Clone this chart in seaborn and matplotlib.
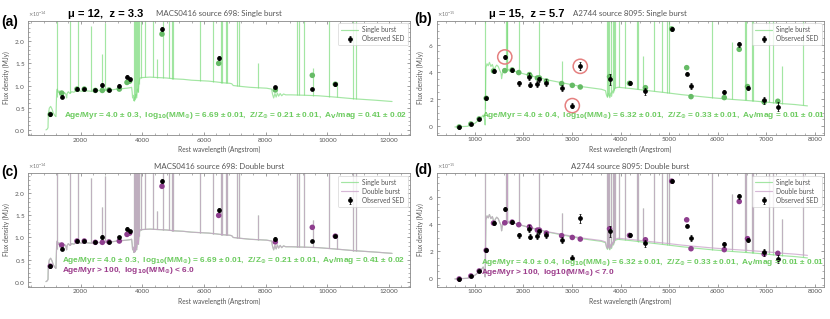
import numpy as np
import matplotlib
matplotlib.use("Agg")
import matplotlib.pyplot as plt
import seaborn as sns
from matplotlib.ticker import MultipleLocator, AutoMinorLocator, ScalarFormatter

# ---------------- data : MACS0416 source 698 (flux in 1e-14 MJy) ----------------
spec_a_wave = [874, 917, 940, 949, 982, 1025, 1069, 1112, 1166, 1198,
               1222, 1240, 1274, 1300, 1328, 1355, 1382, 1400, 1436, 1480,
               1520, 1544, 1560, 1598, 1650, 1706, 1780, 1868, 1950, 2050,
               2193, 2350, 2517, 2700, 2841, 3000, 3166, 3350, 3490, 3600,
               3652, 3670, 3684, 3705, 3727, 3750, 3771, 3790, 3814, 3840,
               3868, 3895, 3922, 4000, 4246, 4500, 4787, 5050, 5328, 5600,
               5869, 6150, 6409, 6650, 6841, 6900, 6949, 7200, 7490, 7750,
               8030, 8192, 8224, 8260, 8300, 8340, 8380, 8420, 8470, 8520,
               8580, 8650, 8835, 9300, 9700, 10241, 10890, 11540, 12100]
spec_a_flux = [0.00, 0.02, 0.05, 0.34, 0.49, 0.53, 0.47, 0.38, 0.32, 0.30,
               0.88, 0.92, 0.84, 0.88, 0.78, 0.85, 0.82, 0.74, 0.80, 0.84,
               0.80, 0.72, 0.82, 0.86, 0.82, 0.86, 0.85, 0.89, 0.88, 0.87,
               0.88, 0.87, 0.89, 0.88, 0.90, 0.90, 0.92, 0.93, 0.94, 0.95,
               0.96, 0.85, 0.72, 0.78, 0.66, 0.74, 0.68, 0.80, 0.72, 0.92,
               0.85, 1.08, 1.17, 1.18, 1.19, 1.18, 1.17, 1.15, 1.14, 1.12,
               1.11, 1.10, 1.08, 1.06, 1.05, 1.04, 1.00, 0.98, 0.96, 0.95,
               0.94, 0.92, 0.80, 0.72, 0.82, 0.74, 0.83, 0.76, 0.82, 0.77,
               0.81, 0.79, 0.79, 0.78, 0.77, 0.74, 0.70, 0.67, 0.64]
lines_a_wave = [1216, 1640, 1909, 2326, 2680, 2800, 3727, 3760, 3798, 3835,
                3869, 3889, 3970, 4102, 4340, 4471, 4686, 4861, 4959, 5007,
                5876, 6300, 6563, 6583, 6717, 6731, 7065, 7136, 7751, 9015,
                9069, 9229, 9532, 10049, 10320, 10830, 10938]
lines_a_peak = [3.0, 3.0, 3.0, 2.35, 1.7, 2.4, 3.0, 3.0, 3.0, 3.0,
                3.0, 3.0, 3.0, 3.0, 3.0, 1.6, 3.0, 3.0, 3.0, 3.0,
                3.0, 3.0, 3.0, 3.0, 3.0, 3.0, 3.0, 3.0, 1.5, 3.0,
                3.0, 3.0, 1.4, 3.0, 1.08, 3.0, 3.0]
obs_a_wave = [1014, 1384, 1880, 2117, 2475, 2702, 2918, 3253, 3502, 3589,
              4637, 6476, 8313, 9513, 10259]
obs_a_flux = [0.35, 0.75, 0.93, 0.92, 0.90, 1.01, 0.90, 1.00, 1.20, 1.14,
              2.28, 1.62, 0.96, 0.92, 1.03]
obs_a_err = [0.04, 0.04, 0.03, 0.03, 0.03, 0.04, 0.03, 0.04, 0.04, 0.04,
             0.04, 0.04, 0.04, 0.03, 0.03]
mod_a_flux = [0.35, 0.83, 0.92, 0.92, 0.89, 0.89, 0.90, 0.92, 1.07, 1.10,
              2.16, 1.50, 0.90, 1.23, 1.03]

# ---------------- data : A2744 source 8095 (flux in 1e-15 MJy) ----------------
spec_b_wave = [589, 700, 850, 897, 950, 1000, 1068, 1137, 1171, 1200,
               1212, 1226, 1250, 1274, 1300, 1330, 1360, 1385, 1400, 1420,
               1450, 1480, 1514, 1540, 1550, 1562, 1590, 1617, 1650, 1680,
               1720, 1754, 1823, 1960, 2165, 2510, 2853, 3196, 3608, 3690,
               3710, 3730, 3750, 3780, 3800, 3815, 3835, 3855, 3880, 3950,
               4225, 4570, 4910, 5250, 5600, 5940, 6285, 6630, 6970, 7315,
               7590, 7850]
spec_b_flux = [-0.05, -0.03, 0.00, 0.08, 0.12, 0.22, 0.42, 0.66, 0.83, 0.50,
               0.10, 4.30, 4.60, 4.45, 4.70, 4.40, 4.55, 4.25, 3.95, 4.35,
               4.50, 4.40, 4.10, 3.90, 3.50, 3.75, 4.20, 4.25, 4.00, 4.20,
               4.05, 4.14, 4.05, 3.90, 3.70, 3.40, 3.16, 2.92, 2.72, 2.62,
               2.30, 2.15, 2.40, 2.10, 2.45, 2.20, 2.60, 2.45, 2.80, 2.87,
               2.77, 2.62, 2.48, 2.33, 2.20, 2.08, 1.98, 1.89, 1.79, 1.67,
               1.60, 1.50]
spec_b_double_flux = [-0.05, -0.03, 0.00, 0.08, 0.12, 0.22, 0.42, 0.66, 0.83, 0.50,
                      0.10, 4.30, 4.60, 4.45, 4.70, 4.40, 4.55, 4.25, 3.95, 4.35,
                      4.50, 4.40, 4.10, 3.90, 3.50, 3.75, 4.20, 4.25, 4.00, 4.20,
                      4.05, 4.14, 4.06, 3.91, 3.72, 3.42, 3.20, 2.97, 2.78, 2.68,
                      2.36, 2.21, 2.46, 2.17, 2.52, 2.27, 2.67, 2.52, 2.87, 2.95,
                      2.86, 2.72, 2.59, 2.45, 2.33, 2.22, 2.13, 2.05, 1.96, 1.85,
                      1.78, 1.69]
lines_b_wave = [1216, 1640, 1661, 1666, 1909, 2326, 2800, 3727, 3750, 3771,
                3798, 3835, 3869, 3889, 3970, 4102, 4340, 4363, 4471, 4686,
                4861, 4959, 5007, 5876, 6300, 6563, 6583, 6717, 6731, 7065,
                7136, 7325, 7751]
lines_b_peak = [9, 9, 9, 9, 9, 9, 4.8, 9, 9, 9,
                9, 9, 9, 9, 9, 9, 9, 9, 5.2, 9,
                9, 9, 9, 9, 6.2, 9, 9, 9, 9, 9,
                9, 4.4, 9]
obs_b_wave = [677, 918, 1089, 1233, 1384, 1616, 1767, 1904, 2124, 2136,
              2288, 2329, 2473, 2787, 3007, 3171, 3774, 4185, 4513, 5054,
              5363, 5452, 6137, 6445, 6616, 6958, 7240]
obs_b_flux = [-0.07, 0.17, 0.54, 2.06, 4.07, 5.10, 4.12, 3.16, 3.65, 3.06,
              3.11, 3.46, 3.19, 2.82, 1.52, 4.41, 3.46, 3.19, 2.57, 7.16,
              3.87, 2.97, 2.52, 6.03, 2.84, 1.91, 1.45]
obs_b_err = [0.12, 0.10, 0.10, 0.10, 0.12, 0.15, 0.15, 0.20, 0.25, 0.20,
             0.20, 0.20, 0.25, 0.25, 0.20, 0.30, 0.40, 0.15, 0.25, 0.15,
             0.12, 0.20, 0.18, 0.20, 0.15, 0.25, 0.30]
mod_b_flux = [-0.05, 0.17, 0.54, 2.06, 4.07, 4.09, 4.14, 3.95, 3.80, 3.70,
              3.55, 3.55, 3.33, 3.14, 3.01, 2.89, 3.65, 3.16, 2.84, 7.16,
              4.31, 2.18, 2.11, 5.66, 2.92, 1.79, 1.84]
outlier_b_idx = [5, 14, 15]

# ---------------- text ----------------
titles = ["MACS0416 source 698: Single burst", "A2744 source 8095: Single burst",
          "MACS0416 source 698: Double burst", "A2744 source 8095: Double burst"]
lens_labels = ["μ = 12,  z = 3.3", "μ = 15,  z = 5.7"]
single_fit_a = (r"Age/Myr = 4.0 ± 0.3,  log$_\mathbf{10}$(M/M$_\mathbf{\odot}$) = 6.69 ± 0.01,  "
                r"Z/Z$_\mathbf{\odot}$ = 0.21 ± 0.01,  A$_\mathbf{V}$/mag = 0.41 ± 0.02")
single_fit_b = (r"Age/Myr = 4.0 ± 0.4,  log$_\mathbf{10}$(M/M$_\mathbf{\odot}$) = 6.32 ± 0.01,  "
                r"Z/Z$_\mathbf{\odot}$ = 0.33 ± 0.01,  A$_\mathbf{V}$/mag = 0.01 ± 0.01")
double_fit_c = r"Age/Myr > 100,  log$_\mathbf{10}$(M/M$_\mathbf{\odot}$) < 6.0"
double_fit_d = r"Age/Myr > 100,  log10(M/M$_\mathbf{\odot}$) < 7.0"

# ---------------- style ----------------
sns.set_theme(style="ticks")
plt.rcParams.update({
    "font.family": ["Lato", "DejaVu Sans"],
    "mathtext.fontset": "dejavusans",
    "xtick.direction": "in", "ytick.direction": "in",
    "xtick.top": True, "ytick.right": True,
    "xtick.minor.visible": True, "ytick.minor.visible": True,
    "axes.edgecolor": "#888888", "axes.linewidth": 0.6,
    "xtick.color": "#777777", "ytick.color": "#777777",
    "xtick.labelcolor": "#555555", "ytick.labelcolor": "#555555",
    "xtick.major.size": 2.4, "ytick.major.size": 2.4,
    "xtick.minor.size": 1.2, "ytick.minor.size": 1.2,
    "xtick.major.width": 0.5, "ytick.major.width": 0.5,
    "xtick.minor.width": 0.4, "ytick.minor.width": 0.4,
    "xtick.labelsize": 4.6, "ytick.labelsize": 4.6,
    "xtick.major.pad": 2, "ytick.major.pad": 2,
})

C_SINGLE = "#7ddc7d"
C_DOUBLE = "#c9a0c9"
C_MOD_S = "#66bb66"
C_MOD_D = "#8e3e8e"
C_TXT_S = "#6ccb5f"
C_TXT_D = "#9b3a8a"
BOLD = ["Liberation Sans", "DejaVu Sans"]

fig = plt.figure(figsize=(8.3, 3.19), dpi=100)
ax_a = fig.add_axes([0.0337, 0.5768, 0.4602, 0.3574])
ax_b = fig.add_axes([0.5261, 0.5777, 0.4666, 0.3564])
ax_c = fig.add_axes([0.0337, 0.1013, 0.4602, 0.3555])
ax_d = fig.add_axes([0.5261, 0.1013, 0.4666, 0.3555])


def spectrum(ax, wave, flux, lw_, lp_, scale, color, alpha, label):
    w = np.asarray(wave, float)
    f = np.asarray(flux, float)
    sns.lineplot(x=w, y=f * scale, ax=ax, color=color, alpha=alpha, lw=0.85,
                 estimator=None, sort=False, label=label, legend=False)
    base = np.interp(lw_, w, f)
    ax.vlines(lw_, base * scale, np.asarray(lp_) * scale, color=color,
              alpha=alpha, lw=0.85)


def panel(ax, scale, spec_w, spec_f, spec_fd, lw_, lp_, ow, of, oe, mf,
          double, xlim, ylim, ymaj, yminor, xmaj, title):
    spectrum(ax, spec_w, spec_f, lw_, lp_, scale, C_SINGLE, 0.7, "Single burst")
    if double:
        spectrum(ax, spec_w, spec_fd, lw_, lp_, scale, C_DOUBLE, 0.75, "Double burst")
    sns.scatterplot(x=ow, y=np.asarray(mf) * scale, ax=ax,
                    color=(C_MOD_D if double else C_MOD_S), s=16,
                    edgecolor="none", zorder=4, legend=False)
    ax.errorbar(ow, np.asarray(of) * scale, yerr=np.asarray(oe) * scale,
                fmt="o", color="black", ms=2.4, elinewidth=0.6, capsize=0.9,
                capthick=0.5, zorder=5, label="Observed SED")
    ax.set_xlim(*xlim)
    ax.set_ylim(ylim[0] * scale, ylim[1] * scale)
    ax.xaxis.set_major_locator(MultipleLocator(xmaj))
    ax.xaxis.set_minor_locator(AutoMinorLocator(5))
    ax.yaxis.set_major_locator(MultipleLocator(ymaj * scale))
    ax.yaxis.set_minor_locator(AutoMinorLocator(yminor))
    fmt = ScalarFormatter(useMathText=True)
    ax.yaxis.set_major_formatter(fmt)
    ax.yaxis.get_offset_text().set_fontsize(3.8)
    ax.yaxis.get_offset_text().set_color("#777777")
    ax.set_xlabel("Rest wavelength (Angstrom)", fontsize=4.8, color="#555555", labelpad=2.5)
    ax.set_ylabel("Flux density (MJy)", fontsize=4.8, color="#555555", labelpad=3)
    ax.text(0.5, 1.062, title, transform=ax.transAxes, ha="center", va="center",
            fontsize=5.7, color="#555555")
    h, l = ax.get_legend_handles_labels()
    order = ["Single burst", "Double burst", "Observed SED"]
    hh = [h[l.index(o)] for o in order if o in l]
    ll = [o for o in order if o in l]
    leg = ax.legend(hh, ll, loc="upper right", fontsize=4.8, frameon=True,
                    handlelength=2.6, borderaxespad=0.35, borderpad=0.45,
                    labelspacing=0.3, handletextpad=0.6)
    leg.get_frame().set_edgecolor("#cccccc")
    leg.get_frame().set_linewidth(0.5)
    for t in leg.get_texts():
        t.set_color("#555555")


panel(ax_a, 1e-14, spec_a_wave, spec_a_flux, None, lines_a_wave, lines_a_peak,
      obs_a_wave, obs_a_flux, obs_a_err, mod_a_flux, False,
      (290, 12680), (-0.115, 2.455), 0.5, 5, 2000, titles[0])
panel(ax_b, 1e-15, spec_b_wave, spec_b_flux, None, lines_b_wave, lines_b_peak,
      obs_b_wave, obs_b_flux, obs_b_err, mod_b_flux, False,
      (213, 8190), (-0.62, 7.74), 2, 4, 1000, titles[1])
panel(ax_c, 1e-14, spec_a_wave, spec_a_flux, spec_a_flux, lines_a_wave, lines_a_peak,
      obs_a_wave, obs_a_flux, obs_a_err, mod_a_flux, True,
      (290, 12680), (-0.115, 2.455), 0.5, 5, 2000, titles[2])
panel(ax_d, 1e-15, spec_b_wave, spec_b_flux, spec_b_double_flux, lines_b_wave, lines_b_peak,
      obs_b_wave, obs_b_flux, obs_b_err, mod_b_flux, True,
      (213, 8190), (-0.62, 7.74), 2, 4, 1000, titles[3])

# outlier rings in (b)
sns.scatterplot(x=[obs_b_wave[i] for i in outlier_b_idx],
                y=[obs_b_flux[i] * 1e-15 for i in outlier_b_idx], ax=ax_b,
                s=105, facecolor="none", edgecolor="#e58080", linewidth=1.1,
                zorder=6, legend=False)

# fit annotations
FS = 5.95
ax_a.text(0.094, 0.175, single_fit_a, transform=ax_a.transAxes, ha="left", va="center",
          fontsize=FS, fontweight="bold", color=C_TXT_S, family=BOLD, zorder=7)
ax_b.text(0.116, 0.167, single_fit_b, transform=ax_b.transAxes, ha="left", va="center",
          fontsize=FS, fontweight="bold", color=C_TXT_S, family=BOLD, zorder=7)
ax_c.text(0.09, 0.229, single_fit_a, transform=ax_c.transAxes, ha="left", va="center",
          fontsize=FS, fontweight="bold", color=C_TXT_S, family=BOLD, zorder=7)
ax_c.text(0.09, 0.147, double_fit_c, transform=ax_c.transAxes, ha="left", va="center",
          fontsize=FS, fontweight="bold", color=C_TXT_D, family=BOLD, zorder=7)
ax_d.text(0.114, 0.215, single_fit_b, transform=ax_d.transAxes, ha="left", va="center",
          fontsize=FS, fontweight="bold", color=C_TXT_S, family=BOLD, zorder=7)
ax_d.text(0.114, 0.127, double_fit_d, transform=ax_d.transAxes, ha="left", va="center",
          fontsize=FS, fontweight="bold", color=C_TXT_D, family=BOLD, zorder=7)

# lensing labels
ax_a.text(0.105, 1.062, lens_labels[0], transform=ax_a.transAxes, ha="left", va="center",
          fontsize=8, fontweight="bold", color="black", family=BOLD)
ax_b.text(0.135, 1.062, lens_labels[1], transform=ax_b.transAxes, ha="left", va="center",
          fontsize=8, fontweight="bold", color="black", family=BOLD)

# panel letters
for lab, x, y in [("(a)", 0.001, 1 - 22 / 319), ("(b)", 0.4995, 1 - 18.5 / 319),
                  ("(c)", 0.001, 1 - 172 / 319), ("(d)", 0.4995, 1 - 170 / 319)]:
    fig.text(x, y, lab, ha="left", va="center", fontsize=10, fontweight="bold",
             family=BOLD, color="black")

fig.savefig("out.png", dpi=100)
